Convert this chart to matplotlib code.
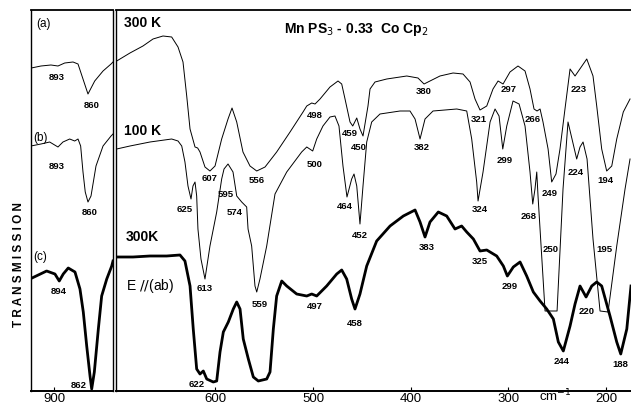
import numpy as np
import matplotlib
matplotlib.use("Agg")
import matplotlib.pyplot as plt

plt.rcParams['font.family'] = ['Liberation Sans', 'DejaVu Sans']

# wavenumber (cm-1) / transmission (arb. units)
# left panel (break between ~840 and ~700 cm-1)
a_wn_l = [923.2, 913.3, 903.1, 895.9, 889.0, 880.5, 875.4, 870.3, 865.2, 858.3, 849.8, 841.6, 839.6]
a_t_l = [323, 325, 326, 325, 328, 329, 327, 312, 297, 310, 320, 327, 329]
b_wn_l = [923.6, 913.3, 904.4, 895.9, 890.8, 883.9, 878.8, 875.4, 872.7, 870.3, 868.0, 865.2, 862.1, 857.0, 849.8, 841.6, 839.6]
b_t_l = [245, 247, 249, 244, 249, 252, 250, 252, 245, 219, 199, 189, 195, 225, 245, 255, 257]
c_wn_l = [924.6, 907.5, 899.0, 894.6, 890.5, 885.4, 878.5, 873.4, 870.0, 866.5, 863.1, 861.4, 858.7, 854.6, 851.2, 846.0, 840.9, 839.6]
c_t_l = [112, 120, 117, 110, 117, 123, 119, 102, 79, 45, 15, 2, 19, 62, 95, 112, 125, 130]

# right panel
a_wn = [701.0, 687.4, 674.1, 663.8, 653.6, 644.7, 638.2, 633.1, 629.3, 625.9, 620.8, 618.1, 615.7, 610.6,
        605.5, 600.3, 593.5, 587.0, 582.9, 578.1, 571.7, 564.5, 557.6, 549.1, 537.2, 523.5, 510.2, 506.4,
        501.3, 497.9, 492.8, 482.6, 474.4, 470.6, 467.2, 462.1, 459.3, 455.2, 451.9, 448.8, 443.7, 441.6,
        436.5, 424.5, 404.0, 392.5, 386.3, 380.2, 370.0, 356.6, 346.4, 339.2, 334.1, 329.0, 322.1, 315.7,
        310.5, 305.4, 298.3, 290.1, 282.9, 277.8, 273.7, 270.6, 267.5, 264.5, 259.3, 255.6, 251.2, 247.1,
        242.0, 236.8, 231.7, 219.7, 213.3, 209.5, 204.4, 199.3, 194.1, 189.0, 182.3, 175.4]
a_t = [330, 338, 345, 352, 355, 354, 344, 329, 295, 262, 244, 243, 239, 224,
       220, 225, 252, 272, 283, 269, 239, 225, 220, 224, 239, 259, 279, 285,
       288, 287, 292, 304, 310, 307, 292, 269, 265, 273, 262, 255, 285, 302,
       309, 312, 315, 313, 307, 310, 315, 318, 317, 309, 292, 281, 285, 302,
       310, 307, 319, 325, 320, 302, 282, 280, 282, 269, 242, 209, 217, 242,
       282, 322, 315, 332, 315, 285, 242, 220, 225, 252, 279, 292]

b_wn = [701.0, 687.4, 666.9, 644.7, 638.2, 634.4, 631.1, 628.0, 624.9, 622.9, 620.8, 619.1, 617.8, 614.7,
        610.6, 605.5, 598.6, 593.5, 591.1, 587.0, 581.9, 578.1, 573.0, 567.9, 566.5, 562.8, 559.4, 557.6,
        554.3, 547.4, 538.9, 526.9, 511.6, 506.4, 500.3, 496.2, 489.8, 482.6, 477.5, 473.4, 469.3, 465.2,
        460.4, 458.0, 455.2, 451.9, 448.8, 445.0, 439.9, 431.4, 410.9, 400.7, 395.5, 390.4, 385.3, 377.1,
        352.8, 342.6, 337.5, 332.4, 331.0, 325.9, 318.7, 313.6, 309.5, 305.7, 301.6, 295.2, 289.0, 282.9,
        277.8, 275.0, 272.7, 270.9, 269.6, 262.4, 250.1, 244.0, 238.9, 234.8, 230.0, 226.6, 223.5, 219.4,
        213.3, 206.1, 197.9, 189.0, 180.5, 175.4]
b_t = [242, 245, 249, 252, 250, 245, 229, 205, 192, 205, 209, 195, 162, 132,
       112, 145, 179, 212, 222, 227, 219, 195, 189, 184, 162, 145, 105, 99,
       112, 145, 197, 219, 239, 244, 240, 252, 265, 274, 275, 265, 225, 194,
       212, 217, 205, 167, 205, 249, 269, 277, 280, 280, 272, 252, 272, 280,
       282, 280, 252, 209, 190, 219, 269, 282, 275, 242, 265, 290, 287, 265,
       219, 187, 202, 219, 195, 80, 80, 202, 269, 252, 232, 244, 249, 232,
       152, 80, 79, 145, 202, 232]

c_wn = [699.4, 684.3, 666.9, 649.8, 636.2, 631.1, 625.9, 622.6, 619.1, 615.7, 612.3, 608.8, 602.1, 598.6,
        595.2, 591.8, 586.7, 581.6, 578.1, 574.7, 571.4, 566.2, 561.1, 556.0, 547.4, 544.0, 540.6, 537.2,
        532.0, 526.9, 516.7, 506.4, 501.3, 496.2, 486.0, 475.7, 470.6, 465.5, 460.4, 457.0, 451.9, 445.0,
        434.8, 421.1, 407.5, 395.5, 390.4, 385.3, 380.2, 371.7, 363.1, 354.6, 347.8, 342.6, 335.8, 329.0,
        322.1, 311.9, 305.1, 301.0, 294.9, 288.0, 281.2, 274.4, 267.5, 260.7, 253.9, 248.8, 243.7, 236.8,
        231.7, 226.6, 220.4, 214.6, 209.5, 204.4, 195.9, 189.0, 184.9, 178.7, 174.4]
c_t = [134, 134, 135, 135, 136, 130, 105, 62, 22, 17, 20, 12, 9, 10,
       39, 59, 69, 82, 89, 82, 52, 32, 14, 10, 12, 19, 62, 95,
       110, 105, 97, 95, 97, 95, 105, 117, 121, 112, 92, 82, 97, 125,
       150, 165, 175, 181, 169, 154, 169, 179, 175, 162, 165, 159, 152, 140,
       141, 135, 125, 115, 124, 129, 115, 99, 90, 82, 72, 49, 40, 65,
       87, 105, 94, 105, 109, 105, 75, 49, 37, 62, 105]

# peak labels: text, wavenumber, transmission
lab_left = [("893", 897.6, 315), ("860", 861.8, 287), ("893", 897.6, 225), ("860", 863.4, 179),
            ("894", 895.6, 100), ("862", 875.1, 6)]
lab_right = [("607", 605.5, 213), ("556", 557.6, 211), ("498", 498.0, 277), ("459", 462.1, 258),
             ("450", 453.6, 244), ("380", 387.0, 300), ("321", 330.7, 272), ("297", 300.0, 302),
             ("266", 275.0, 273), ("223", 228.3, 303), ("249", 257.3, 198), ("194", 201.0, 211),
             ("625", 631.1, 182), ("595", 589.1, 197), ("574", 579.9, 179), ("613", 610.6, 103),
             ("559", 554.3, 87), ("500", 498.0, 227), ("464", 467.9, 185), ("452", 451.9, 156),
             ("382", 388.7, 244), ("324", 329.0, 182), ("299", 303.4, 231), ("268", 279.5, 175),
             ("224", 230.7, 219), ("250", 256.6, 142), ("195", 202.0, 142),
             ("622", 619.1, 7), ("497", 498.0, 85), ("458", 457.0, 68), ("383", 383.6, 144),
             ("325", 329.0, 130), ("299", 299.0, 105), ("244", 245.3, 30), ("220", 219.7, 80),
             ("188", 185.6, 27)]

fig = plt.figure(figsize=(6.31, 4.06), dpi=100)
W, H = 631.0, 406.0
ax_l = fig.add_axes([31 / W, 14 / H, 82 / W, 381 / H])
ax_r = fig.add_axes([116 / W, 14 / H, 515 / W, 381 / H])

thin = dict(color="black", lw=0.7)
thick = dict(color="black", lw=2.0)
for ax in (ax_l, ax_r):
    ax.set_ylim(0, 381)
    ax.set_yticks([])
    ax.tick_params(axis="x", direction="in", length=3, width=0.8, pad=1, labelsize=9.5)
    for s in ax.spines.values():
        s.set_linewidth(1.0)
    ax.spines["bottom"].set_linewidth(1.4)
    ax.spines["top"].set_linewidth(1.3)

ax_l.plot(a_wn_l, a_t_l, **thin)
ax_l.plot(b_wn_l, b_t_l, **thin)
ax_l.plot(c_wn_l, c_t_l, **thick)
ax_l.set_xlim(923.5, 839.6)
ax_l.set_xticks([900])

ax_r.plot(a_wn, a_t, **thin)
ax_r.plot(b_wn, b_t, **thin)
ax_r.plot(c_wn, c_t, **thick)
ax_r.set_xlim(701.7, 174.4)
ax_r.set_xticks([600, 500, 400, 300, 200])
ax_r.spines["right"].set_visible(False)

lab_kw = dict(ha="center", va="center", fontsize=6.8, fontweight="bold")
for txt, x, y in lab_left:
    ax_l.text(x, y, txt, **lab_kw)
for txt, x, y in lab_right:
    ax_r.text(x, y, txt, **lab_kw)

ax_l.text(911, 368, "(a)", ha="center", va="center", fontsize=8.5)
ax_l.text(914, 254, "(b)", ha="center", va="center", fontsize=8.5)
ax_l.text(914, 135, "(c)", ha="center", va="center", fontsize=8.5)

ax_r.text(674, 369, "300 K", ha="center", va="center", fontsize=10, fontweight="bold")
ax_r.text(675, 261, "100 K", ha="center", va="center", fontsize=10, fontweight="bold")
ax_r.text(675, 155, "300K", ha="center", va="center", fontsize=10, fontweight="bold")
ax_r.text(667, 106, r"E $\it{//}$(ab)", ha="center", va="center", fontsize=10)
ax_r.text(456, 363, r"Mn PS$_3$ - 0.33  Co Cp$_2$", ha="center", va="center",
          fontsize=10, fontweight="bold")
ax_r.text(252, -4, r"cm$^{-1}$", ha="center", va="center", fontsize=9.5, clip_on=False)

fig.text(19 / W, 1 - 265 / H, "T R A N S M I S S I O N", rotation=90, ha="center", va="center",
         fontsize=8.5, fontweight="bold")

fig.savefig("out.png", dpi=100)
